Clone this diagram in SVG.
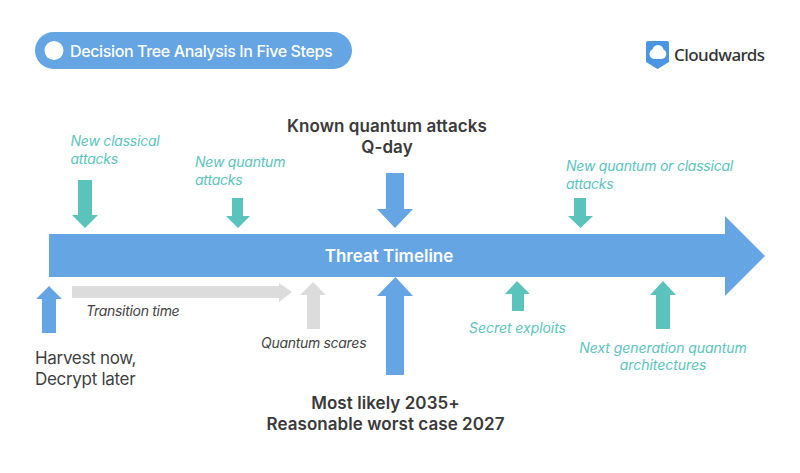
<svg xmlns="http://www.w3.org/2000/svg" width="800" height="473" viewBox="0 0 800 473">
<style>
text{font-family:Inter,"Liberation Sans",sans-serif}
.blue{fill:#65a5e3}.teal{fill:#5ac4bc}.gray{fill:#dcdcdc}
.t{font-size:14px;font-style:italic;fill:#5ac4bc;letter-spacing:-.22px}
.n{letter-spacing:-.06px}
.g{font-size:14px;font-style:italic;fill:#444;letter-spacing:-.3px}
.b{font-size:17px;font-weight:600;fill:#3a3a3a;text-anchor:middle;letter-spacing:.06px}
.r{font-size:17px;fill:#3f3f3f;letter-spacing:-.3px}
.w{fill:#fff;font-weight:500;letter-spacing:-.37px}
</style>
<rect width="800" height="473" fill="#fff"/>
<g id="title"><rect x="35" y="32" width="317" height="37" rx="18.5" class="blue"/><circle cx="54" cy="50.5" r="9.500" fill="#fff"/><text x="70" y="56.5" font-size="16" class="w">Decision Tree Analysis In Five Steps</text></g>
<g id="logo"><path d="M648 41H667a2 2 0 0 1 2 2V62L657.500 69L646 62V43a2 2 0 0 1 2-2Z" fill="#4a96e0"/><g fill="#fff"><circle cx="654.500" cy="54" r="5"/><circle cx="658" cy="50.500" r="5.500"/><circle cx="661.500" cy="54" r="4.800"/><rect x="654" y="53" width="8" height="6"/></g><text x="674" y="61" font-size="17" font-weight="500" style="font-family:'Noto Sans',sans-serif;letter-spacing:-.55px" fill="#333">Cloudwards</text></g>
<g id="connectors">
<path id="classical-arrow" class="teal" d="M78 180H92V215H98L85 228L72 215H78Z"/>
<path id="quantum-arrow" class="teal" d="M232 198H243V216H250L238 228L226 216H232Z"/>
<path id="known-arrow" class="blue" d="M386 173H404V209H413L395 228L377 209H386Z"/>
<path id="new-arrow" class="teal" d="M574 198H586V216H593L580.500 228L568 216H574Z"/>
<path id="harvest-arrow" class="blue" d="M49 286L62 299H56V333H42V299H36Z"/>
<path id="transition-arrow" class="gray" d="M72 286H279V283L292 292L279 302V298H72Z"/>
<path id="scares-arrow" class="gray" d="M313 282L326 295H320V329H307V295H300Z"/>
<path id="likely-arrow" class="blue" d="M395.500 277L413 296H404V375H386V296H377Z"/>
<path id="secret-arrow" class="teal" d="M517 281L530 294H524V311H512V294H505Z"/>
<path id="next-arrow" class="teal" d="M663 281L676 295H670V329H656V295H650Z"/>
</g>
<g id="timeline"><path class="blue" d="M49 234H725V216L765 256L725 296V277H49Z"/><text x="389" y="262" font-size="17" font-weight="600" fill="#fff" text-anchor="middle">Threat Timeline</text></g>
<g id="label-classical"><text class="t" x="70.500" y="146">New classical</text><text class="t" x="70.500" y="164">attacks</text></g>
<g id="label-quantum"><text class="t" x="195" y="167">New quantum</text><text class="t" x="195" y="185">attacks</text></g>
<g id="label-known"><text class="b" x="387" y="132">Known quantum attacks</text><text class="b" x="387" y="153">Q-day</text></g>
<g id="label-new"><text class="t" x="566" y="171">New quantum or classical</text><text class="t" x="566" y="189">attacks</text></g>
<g id="label-harvest"><text class="r" x="35" y="364">Harvest now,</text><text class="r" x="35" y="385">Decrypt later</text></g>
<g id="label-transition"><text class="g" x="86" y="316">Transition time</text></g>
<g id="label-scares"><text class="g" x="261" y="348">Quantum scares</text></g>
<g id="label-likely"><text class="b" x="385.500" y="409">Most likely 2035+</text><text class="b" x="385.500" y="430">Reasonable worst case 2027</text></g>
<g id="label-secret"><text class="t n" x="517.500" y="333" text-anchor="middle">Secret exploits</text></g>
<g id="label-next"><text class="t n" x="663" y="353" text-anchor="middle">Next generation quantum</text><text class="t n" x="663" y="370" text-anchor="middle">architectures</text></g>
</svg>
